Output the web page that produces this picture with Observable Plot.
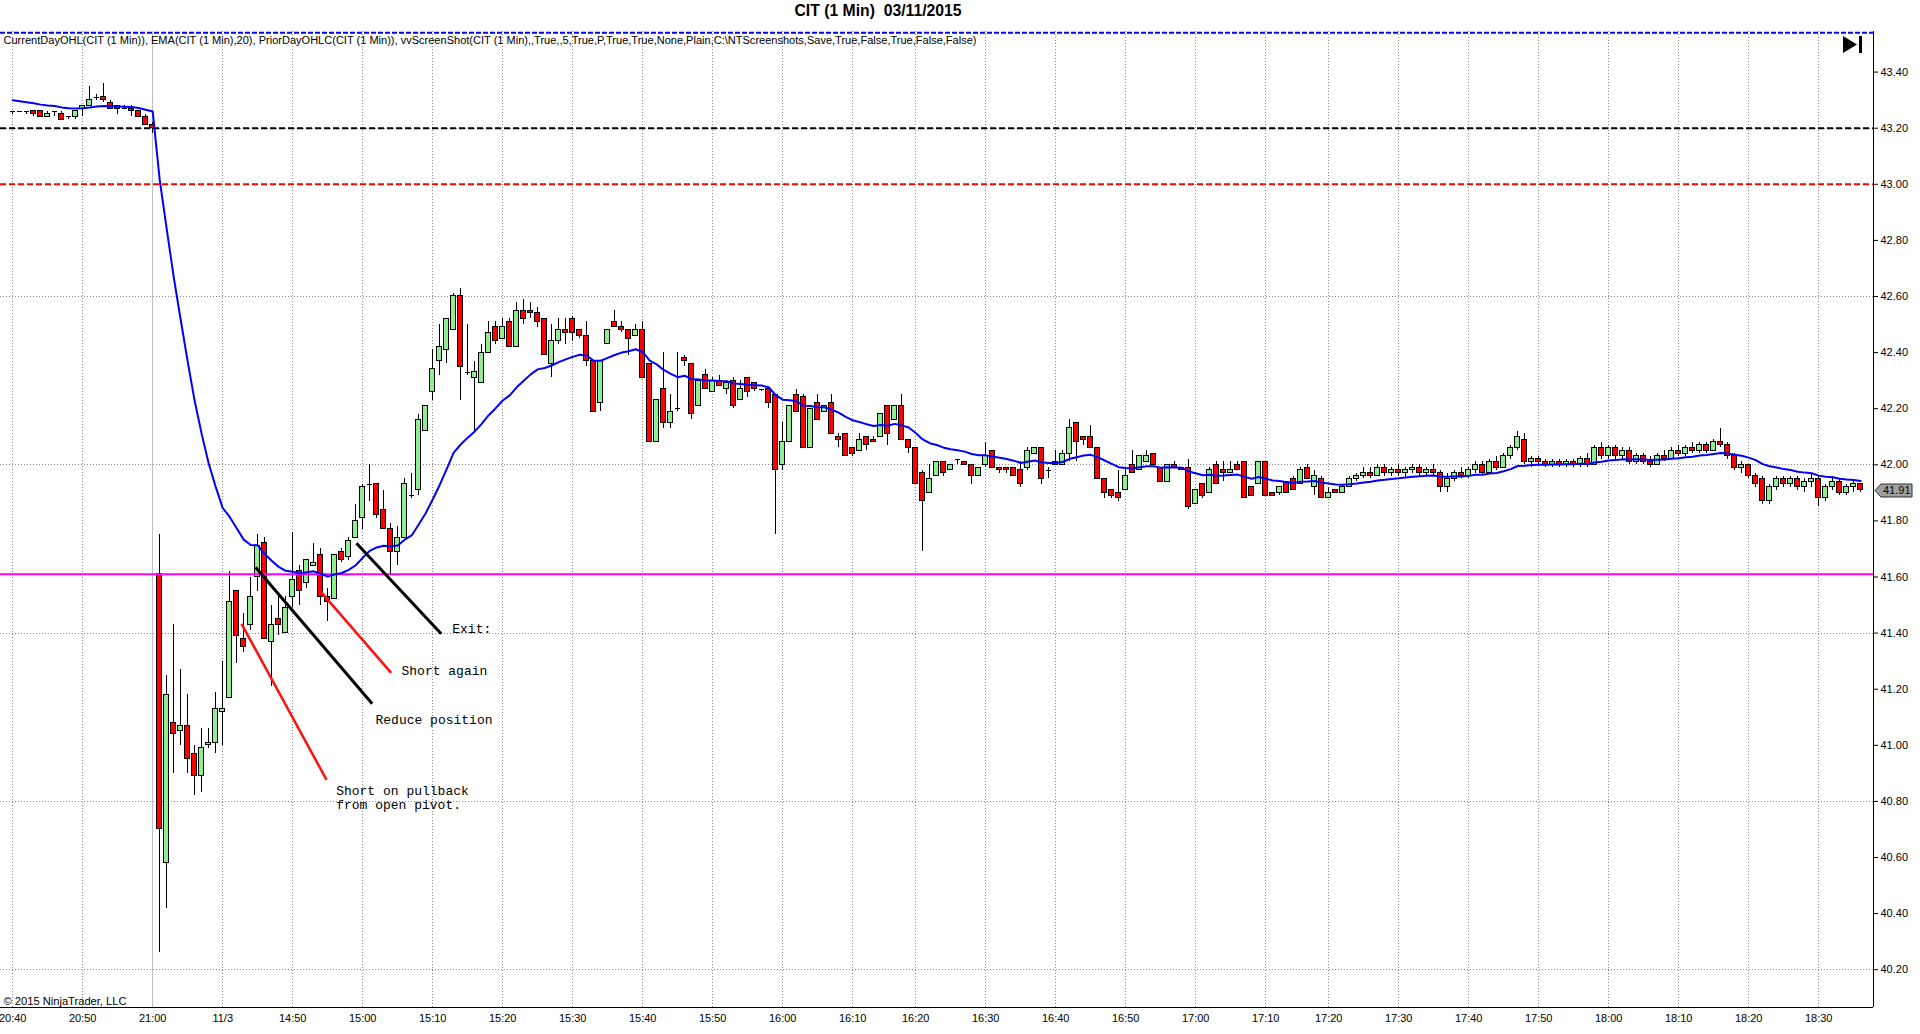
<!DOCTYPE html>
<html><head><meta charset="utf-8">
<script src="https://cdn.jsdelivr.net/npm/d3@7"></script>
<script src="https://cdn.jsdelivr.net/npm/@observablehq/plot@0.6"></script>
<style>body{margin:0;background:#fff;overflow:hidden}</style>
</head><body><div id="chart"></div>
<script>
// ---------- DATA (1-minute bars, bar index 0 = 20:40 prior day) ----------
const opens = [
43.26,43.26,43.26,43.26,43.26,43.24,43.26,43.25,43.24,43.24,
43.27,43.28,43.31,43.31,43.29,43.28,43.27,43.27,43.26,43.24,
43.21,41.61,40.58,41.08,41.05,41.07,40.97,40.89,41.00,41.01,
41.12,41.17,41.55,41.38,41.43,41.60,41.72,41.37,41.45,41.40,
41.53,41.62,41.58,41.64,41.68,41.53,41.52,41.69,41.67,41.74,
41.81,41.93,41.93,41.84,41.77,41.69,41.74,41.89,41.91,42.12,
42.26,42.37,42.41,42.48,42.60,42.33,42.31,42.29,42.40,42.49,
42.45,42.51,42.42,42.55,42.55,42.54,42.52,42.36,42.44,42.48,
42.52,42.48,42.46,42.37,42.22,42.43,42.51,42.49,42.48,42.46,
42.48,42.36,42.08,42.27,42.15,42.20,42.38,42.36,42.21,42.32,
42.26,42.30,42.27,42.30,42.23,42.31,42.29,42.27,42.27,42.25,
42.00,42.08,42.25,42.24,42.06,42.22,42.19,42.22,42.10,42.11,
42.06,42.05,42.10,42.09,42.10,42.21,42.16,42.21,42.09,42.06,
41.97,41.90,41.96,42.01,41.98,42.02,42.01,42.00,41.96,42.00,
42.05,41.99,41.99,41.99,41.98,41.99,42.04,42.06,41.98,42.00,
42.00,42.04,42.15,42.10,42.10,42.06,41.95,41.91,41.90,41.91,
42.00,41.98,42.01,42.04,41.99,41.94,42.00,41.99,41.99,41.86,
41.93,41.90,42.00,41.98,41.97,42.00,42.01,41.92,41.93,42.01,
41.90,41.90,41.94,41.95,41.93,41.99,41.92,41.95,41.88,41.91,
41.90,41.92,41.95,41.96,41.97,41.96,41.99,41.97,41.98,41.97,
41.98,41.99,41.97,41.98,41.97,41.92,41.95,41.97,41.96,41.98,
42.00,41.97,42.01,41.99,42.03,42.06,42.09,42.01,42.02,42.01,
42.00,42.01,42.00,42.01,42.00,42.02,42.00,42.06,42.03,42.06,
42.03,42.05,42.01,42.03,42.01,42.00,42.03,42.02,42.05,42.04,
42.06,42.05,42.07,42.05,42.08,42.07,42.03,41.99,42.00,41.96,
41.95,41.87,41.92,41.95,41.93,41.95,41.92,41.94,41.95,41.88,
41.92,41.94,41.90,41.92,41.93];
const highs = [
43.26,43.26,43.26,43.26,43.26,43.26,43.26,43.26,43.24,43.26,
43.28,43.35,43.32,43.36,43.30,43.28,43.28,43.28,43.26,43.25,
43.22,41.75,41.25,41.43,41.27,41.18,41.00,41.06,41.06,41.19,
41.30,41.62,41.55,41.47,41.60,41.75,41.74,41.50,41.53,41.53,
41.76,41.64,41.66,41.72,41.70,41.56,41.68,41.70,41.74,41.86,
41.93,42.00,41.93,41.91,41.79,41.78,41.95,41.97,42.18,42.21,
42.41,42.50,42.52,42.61,42.63,42.50,42.37,42.43,42.51,42.51,
42.52,42.52,42.58,42.59,42.58,42.56,42.52,42.50,42.52,42.52,
42.53,42.48,42.51,42.37,42.37,42.48,42.55,42.51,42.48,42.50,
42.51,42.36,42.23,42.40,42.25,42.40,42.39,42.36,42.30,42.34,
42.31,42.32,42.30,42.31,42.30,42.31,42.29,42.27,42.27,42.25,
42.15,42.21,42.27,42.25,42.20,42.25,42.21,42.25,42.11,42.11,
42.06,42.11,42.10,42.10,42.18,42.21,42.21,42.25,42.09,42.06,
41.98,42.00,42.01,42.01,42.00,42.02,42.01,42.00,41.99,42.08,
42.05,41.99,41.99,41.99,42.01,42.06,42.06,42.06,41.99,42.05,
42.05,42.16,42.15,42.10,42.14,42.06,41.95,41.91,41.98,41.99,
42.05,42.03,42.05,42.04,41.99,42.00,42.01,41.99,42.02,41.91,
41.93,41.99,42.01,42.01,42.01,42.01,42.01,41.92,42.01,42.01,
41.90,41.92,41.94,41.96,41.99,42.00,41.98,41.96,41.92,41.91,
41.93,41.96,41.97,41.99,41.99,42.00,42.00,41.99,42.00,41.99,
42.00,42.00,41.99,42.00,41.98,41.97,41.98,41.99,41.99,42.01,
42.01,42.02,42.03,42.04,42.07,42.12,42.11,42.03,42.03,42.02,
42.02,42.02,42.02,42.02,42.03,42.04,42.07,42.08,42.07,42.07,
42.06,42.06,42.04,42.04,42.03,42.04,42.05,42.06,42.07,42.07,
42.08,42.08,42.08,42.09,42.13,42.08,42.04,42.01,42.00,41.97,
41.96,41.93,41.96,41.96,41.96,41.96,41.95,41.97,41.96,41.93,
41.96,41.95,41.93,41.94,41.93];
const lows = [
43.25,43.26,43.25,43.24,43.24,43.24,43.24,43.23,43.23,43.23,
43.24,43.28,43.30,43.29,43.27,43.25,43.27,43.24,43.24,43.21,
43.18,40.26,40.42,40.90,41.00,40.90,40.82,40.83,40.99,40.97,
41.00,41.17,41.29,41.33,41.41,41.55,41.38,41.21,41.39,41.40,
41.49,41.50,41.56,41.64,41.50,41.44,41.52,41.65,41.66,41.74,
41.77,41.87,41.81,41.77,41.61,41.64,41.74,41.88,41.89,42.12,
42.23,42.32,42.36,42.48,42.23,42.32,42.12,42.29,42.40,42.43,
42.45,42.42,42.42,42.50,42.52,42.49,42.39,42.31,42.43,42.43,
42.44,42.45,42.35,42.19,42.19,42.43,42.49,42.47,42.39,42.46,
42.31,42.08,42.08,42.13,42.13,42.19,42.35,42.16,42.21,42.27,
42.26,42.28,42.25,42.20,42.23,42.24,42.26,42.26,42.20,41.75,
41.98,42.08,42.19,42.06,42.06,42.16,42.19,42.11,42.06,42.03,
42.03,42.05,42.05,42.08,42.10,42.07,42.16,42.09,42.04,41.93,
41.69,41.90,41.96,41.96,41.98,42.00,42.00,41.93,41.96,41.99,
41.99,41.97,41.97,41.96,41.92,41.98,42.04,41.93,41.95,42.00,
42.00,42.01,42.01,42.07,42.06,41.95,41.88,41.88,41.87,41.91,
41.97,41.98,42.01,42.00,41.94,41.94,41.99,41.98,41.84,41.86,
41.88,41.90,41.93,41.94,41.97,41.98,41.88,41.89,41.93,41.89,
41.89,41.89,41.90,41.91,41.93,41.95,41.89,41.88,41.88,41.90,
41.90,41.92,41.94,41.95,41.95,41.96,41.96,41.96,41.96,41.95,
41.97,41.96,41.96,41.96,41.90,41.90,41.94,41.95,41.95,41.97,
41.96,41.97,41.98,41.99,42.02,42.05,42.00,41.99,42.00,41.99,
41.99,41.99,41.99,41.99,41.99,41.99,42.00,42.02,42.02,42.02,
42.02,42.00,42.00,42.00,41.99,42.00,42.01,42.02,42.03,42.03,
42.04,42.04,42.04,42.05,42.06,42.02,41.98,41.97,41.95,41.92,
41.86,41.86,41.91,41.92,41.92,41.91,41.90,41.92,41.85,41.87,
41.91,41.89,41.89,41.90,41.90];
const closes = [
43.26,43.26,43.26,43.25,43.24,43.25,43.26,43.23,43.24,43.26,
43.28,43.30,43.31,43.30,43.27,43.27,43.27,43.26,43.24,43.21,
43.20,40.70,41.18,41.04,41.07,40.95,40.89,40.99,41.01,41.13,
41.13,41.51,41.39,41.35,41.53,41.71,41.38,41.43,41.43,41.49,
41.59,41.55,41.66,41.65,41.53,41.51,41.68,41.66,41.73,41.80,
41.92,41.93,41.82,41.77,41.69,41.74,41.93,41.89,42.16,42.21,
42.34,42.42,42.52,42.60,42.35,42.33,42.33,42.40,42.47,42.44,
42.49,42.42,42.55,42.52,42.54,42.51,42.39,42.44,42.48,42.47,
42.47,42.46,42.37,42.19,42.37,42.48,42.49,42.48,42.45,42.48,
42.31,42.08,42.23,42.15,42.19,42.20,42.37,42.18,42.30,42.27,
42.30,42.28,42.29,42.21,42.27,42.26,42.27,42.27,42.22,41.98,
42.08,42.21,42.19,42.06,42.20,42.16,42.21,42.11,42.09,42.03,
42.04,42.09,42.07,42.08,42.18,42.11,42.21,42.09,42.06,41.93,
41.87,41.95,42.01,41.97,42.00,42.02,42.00,41.96,41.99,42.03,
41.99,41.98,41.98,41.96,41.93,42.05,42.06,41.95,41.98,42.01,
42.04,42.13,42.08,42.09,42.06,41.95,41.90,41.89,41.88,41.96,
41.97,42.03,42.03,42.00,41.94,42.00,41.99,41.98,41.85,41.91,
41.89,41.98,41.93,41.97,41.98,41.98,41.88,41.89,42.01,41.89,
41.89,41.92,41.90,41.91,41.98,41.95,41.96,41.88,41.90,41.90,
41.92,41.95,41.96,41.97,41.96,41.99,41.97,41.98,41.97,41.98,
41.99,41.97,41.98,41.97,41.92,41.95,41.97,41.96,41.98,42.00,
41.97,42.01,41.99,42.03,42.06,42.10,42.01,42.02,42.01,42.00,
42.01,42.00,42.01,42.00,42.02,42.00,42.06,42.03,42.06,42.03,
42.05,42.01,42.03,42.01,42.00,42.03,42.02,42.05,42.04,42.06,
42.05,42.07,42.05,42.08,42.07,42.03,41.99,42.00,41.96,41.93,
41.87,41.92,41.95,41.93,41.95,41.92,41.94,41.95,41.88,41.92,
41.94,41.90,41.92,41.93,41.91];

const emaPeriod = 20;
const emaStart = 43.30;          // EMA value read at the first bar

const tickIdx    = [0,10,20,30,40,50,60,70,80,90,100,110,120,129,139,149,159,169,179,188,198,208,218,228,238,248,258];
const tickLabels = ["20:40","20:50","21:00","11/3","14:50","15:00","15:10","15:20","15:30","15:40","15:50","16:00","16:10","16:20","16:30","16:40","16:50","17:00","17:10","17:20","17:30","17:40","17:50","18:00","18:10","18:20","18:30"];
const sessionBreakIdx = 20;
const priceTicks = [40.2,40.4,40.6,40.8,41.0,41.2,41.4,41.6,41.8,42.0,42.2,42.4,42.6,42.8,43.0,43.2,43.4];
const priceGrid  = [40.2,40.8,41.4,42.0,42.6,43.2];

const priorHigh = 43.54, priorClose = 43.20, priorLow = 43.00, todayOpen = 41.61;

const shortLines = [ {x1:32.69,y1:41.433,x2:44.83,y2:40.877}, {x1:43.97,y1:41.549,x2:54.07,y2:41.258} ];
const exitLines  = [ {x1:34.69,y1:41.635,x2:51.36,y2:41.148}, {x1:49.11,y1:41.720,x2:61.21,y2:41.398} ];
const notes = [
  {x:62.79, y:41.418, label:"Exit:"},
  {x:55.54, y:41.266, label:"Short again"},
  {x:51.83, y:41.093, label:"Reduce position"},
  {x:46.21, y:40.813, label:"Short on pullback\nfrom open pivot."}
];

const titleText = "CIT (1 Min)  03/11/2015";
const indicatorText = "CurrentDayOHL(CIT (1 Min)), EMA(CIT (1 Min),20), PriorDayOHLC(CIT (1 Min)), vvScreenShot(CIT (1 Min),,True,,5,True,P,True,True,None,Plain,C:\\NTScreenshots,Save,True,False,True,False,False)";
const copyrightText = "\u00A9 2015 NinjaTrader, LLC";

// ---------- derived tables ----------
const bars = opens.map((o, i) => ({i, open: o, high: highs[i], low: lows[i], close: closes[i]}));
const upBars = bars.filter(d => d.close - d.open > 0.004);
const downBars = bars.filter(d => d.open - d.close > 0.004);
const dojiBars = bars.filter(d => Math.abs(d.close - d.open) <= 0.004);
const alpha = 2 / (emaPeriod + 1);
let e = emaStart;
const emaData = closes.map((c, i) => { if (i > 0) e = e + alpha * (c - e); return {i, v: e}; });
const labelOf = new Map(tickIdx.map((t, k) => [t, tickLabels[k]]));

const xDomain = [-1.743, 265.83];
const yDomain = [40.0653, 43.5447];
const bw = 0.34;
const font = "Liberation Sans, Arial, sans-serif";

function priceTag(index, scales, values, dims) {
  const last = closes[closes.length - 1];
  const yc = Math.round(scales.y(last)) + 0.5;
  const xa = dims.width - dims.marginRight + 2;
  const g = d3.create("svg:g");
  g.append("path").attr("d", `M${xa},${yc} L${xa+6},${yc-6.5} H${xa+37} V${yc+6.5} H${xa+6} Z`)
    .attr("fill", "#a0a0a0").attr("stroke", "#303030");
  g.append("text").attr("x", xa + 8).attr("y", yc).attr("dy", "0.36em").attr("text-anchor", "start")
    .attr("font-size", 11).attr("font-family", font).attr("fill", "black").text(last.toFixed(2));
  return g.node();
}
function navButton(index, scales, values, dims) {
  const xr = dims.width - dims.marginRight, yt = dims.marginTop;
  const g = d3.create("svg:g");
  g.append("path").attr("d", `M${xr-30},${yt+5} L${xr-16},${yt+13.5} L${xr-30},${yt+22} Z`).attr("fill", "black");
  g.append("rect").attr("x", xr-14).attr("y", yt+5).attr("width", 3).attr("height", 17).attr("fill", "black");
  return g.node();
}

const chart = Plot.plot({
  width: 1920, height: 1034,
  marginTop: 31, marginBottom: 27, marginLeft: 0, marginRight: 47,
  style: {fontFamily: font, background: "white", overflow: "visible"},
  x: {type: "linear", domain: xDomain},
  y: {type: "linear", domain: yDomain},
  marks: [
    Plot.gridY(priceGrid, {stroke: "#888", strokeOpacity: 1, strokeDasharray: "1,2", shapeRendering: "crispEdges"}),
    Plot.gridX(tickIdx.filter(t => t !== sessionBreakIdx), {stroke: "#888", strokeOpacity: 1, strokeDasharray: "1,2", shapeRendering: "crispEdges"}),
    Plot.ruleX([sessionBreakIdx], {stroke: "#c0c0c0", shapeRendering: "crispEdges"}),
    // candles
    Plot.ruleX(bars, {x: "i", y1: "low", y2: "high", stroke: "black", shapeRendering: "crispEdges"}),
    Plot.rect(upBars, {x1: d => d.i - bw, x2: d => d.i + bw, y1: "open", y2: "close", fill: "#90ee90", stroke: "black", shapeRendering: "crispEdges"}),
    Plot.rect(downBars, {x1: d => d.i - bw, x2: d => d.i + bw, y1: "open", y2: "close", fill: "#ff0000", stroke: "black", shapeRendering: "crispEdges"}),
    Plot.ruleY(dojiBars, {y: "open", x1: d => d.i - bw, x2: d => d.i + bw, stroke: "black", shapeRendering: "crispEdges"}),
    // day levels
    Plot.ruleY([priorHigh], {stroke: "#0000ff", strokeWidth: 2, strokeDasharray: "5,2"}),
    Plot.ruleY([priorClose], {stroke: "black", strokeWidth: 2, strokeDasharray: "6,3"}),
    Plot.ruleY([priorLow], {stroke: "#ff0000", strokeWidth: 2, strokeDasharray: "6,3"}),
    Plot.ruleY([todayOpen], {stroke: "#ff00ff", strokeWidth: 2}),
    // EMA
    Plot.line(emaData, {x: "i", y: "v", stroke: "#0000ff", strokeWidth: 2}),
    // annotations
    Plot.link(shortLines, {x1: "x1", y1: "y1", x2: "x2", y2: "y2", stroke: "#ff1010", strokeWidth: 2.5}),
    Plot.link(exitLines, {x1: "x1", y1: "y1", x2: "x2", y2: "y2", stroke: "black", strokeWidth: 3}),
    Plot.text(notes, {x: "x", y: "y", text: "label", textAnchor: "start", fontFamily: "Liberation Mono, Courier New, monospace", fontSize: 13, lineHeight: 1.08, fill: "black"}),
    // axes
    Plot.axisX(tickIdx, {anchor: "bottom", tickSize: 0, tickPadding: 7, tickFormat: d => labelOf.get(d), fontSize: 11, fill: "black"}),
    Plot.axisY(priceTicks, {anchor: "right", tickSize: 4, tickPadding: 3, tickFormat: d => d.toFixed(2), fontSize: 11, fill: "black", stroke: "black"}),
    Plot.ruleX([xDomain[1]], {stroke: "black", shapeRendering: "crispEdges"}),
    Plot.ruleY([yDomain[0]], {stroke: "black", strokeWidth: 1.5, shapeRendering: "crispEdges"}),
    // texts
    Plot.text([titleText], {frameAnchor: "top", dx: -59, dy: -27, fontSize: 16, fontWeight: "bold", fill: "black"}),
    Plot.text([indicatorText], {frameAnchor: "top-left", dx: 3, dy: 5, textAnchor: "start", fontSize: 10, fill: "black"}),
    Plot.text([copyrightText], {frameAnchor: "bottom-left", dx: 3, dy: -3, textAnchor: "start", fontSize: 10, fill: "black"}),
    priceTag,
    navButton
  ]
});
document.getElementById("chart").appendChild(chart);

// fit text widths to the reference
const fit = {[titleText]: 167, [indicatorText]: 973, [copyrightText]: 123};
chart.querySelectorAll("text").forEach(t => {
  const w = fit[t.textContent];
  if (w) { t.setAttribute("textLength", w); t.setAttribute("lengthAdjust", "spacingAndGlyphs"); }
});
</script>
</body></html>
